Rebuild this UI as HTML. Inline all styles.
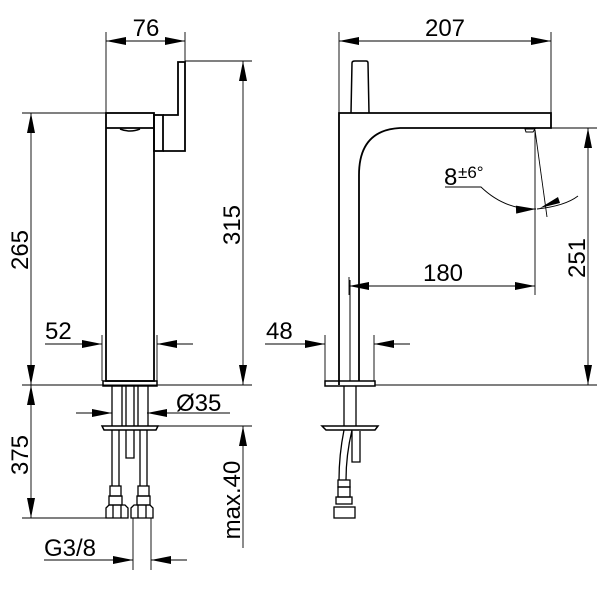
<!DOCTYPE html><html><head><style>body{margin:0;background:#fff}svg{display:block}text{font-family:"Liberation Sans",Arial,sans-serif;fill:#000}</style></head><body>
<svg width="600" height="600" viewBox="0 0 600 600" xmlns="http://www.w3.org/2000/svg">
<defs>
<marker id="a" viewBox="0 0 10 4" refX="10" refY="2" markerWidth="22" markerHeight="8" markerUnits="userSpaceOnUse" orient="auto-start-reverse"><path d="M0,0L10,2L0,4z" fill="#000"/></marker>
</defs>
<g stroke="#000" fill="none" stroke-width="0.9">
<line x1="106" y1="32" x2="106" y2="113"/><line x1="185" y1="32" x2="185" y2="62"/>
<line x1="106" y1="41" x2="185" y2="41" marker-start="url(#a)" marker-end="url(#a)"/>
<line x1="185" y1="61" x2="252" y2="61"/>
<line x1="243" y1="61" x2="243" y2="385" marker-start="url(#a)" marker-end="url(#a)"/>
<line x1="22" y1="113" x2="106" y2="113"/>
<line x1="31" y1="113" x2="31" y2="385" marker-start="url(#a)" marker-end="url(#a)"/>
<line x1="22" y1="385" x2="252" y2="385"/>
<line x1="45" y1="344" x2="102" y2="344" marker-end="url(#a)"/><line x1="193" y1="344" x2="157" y2="344" marker-end="url(#a)"/>
<line x1="102" y1="335" x2="102" y2="381"/><line x1="157" y1="335" x2="157" y2="381"/>
<line x1="76" y1="413" x2="112" y2="413" marker-end="url(#a)"/><line x1="230" y1="413" x2="147" y2="413" marker-end="url(#a)"/>
<line x1="157" y1="426" x2="252" y2="426"/>
<line x1="243" y1="548" x2="243" y2="426" marker-end="url(#a)"/>
<line x1="31" y1="385" x2="31" y2="518" marker-start="url(#a)" marker-end="url(#a)"/>
<line x1="22" y1="518" x2="108" y2="518"/>
<line x1="133" y1="518" x2="133" y2="570"/><line x1="151" y1="518" x2="151" y2="570"/>
<line x1="44" y1="560" x2="133" y2="560" marker-end="url(#a)"/><line x1="187" y1="560" x2="151" y2="560" marker-end="url(#a)"/>
<line x1="339" y1="32" x2="339" y2="113"/><line x1="551" y1="32" x2="551" y2="128"/>
<line x1="339" y1="41" x2="551" y2="41" marker-start="url(#a)" marker-end="url(#a)"/>
<line x1="551" y1="128" x2="597" y2="128"/>
<line x1="588" y1="128" x2="588" y2="385" marker-start="url(#a)" marker-end="url(#a)"/>
<line x1="375" y1="385" x2="597" y2="385"/>
<line x1="535" y1="130" x2="535" y2="295"/><line x1="349" y1="277" x2="349" y2="295"/>
<line x1="349" y1="286" x2="535" y2="286" marker-start="url(#a)" marker-end="url(#a)"/>
<line x1="535" y1="130" x2="547" y2="217"/>
<path d="M445,187H481Q505,210 536,209" marker-end="url(#a)"/>
<path d="M578,196Q565,206 537,209"/>
<path d="M560,203L540,208L558,197z" fill="#000" stroke="none"/>
<line x1="265" y1="344" x2="325" y2="344" marker-end="url(#a)"/><line x1="410" y1="344" x2="374" y2="344" marker-end="url(#a)"/>
<line x1="325" y1="335" x2="325" y2="381"/><line x1="374" y1="335" x2="374" y2="381"/>
</g>
<g stroke="#000" fill="none" stroke-width="1.8">
<rect x="106" y="113" width="48" height="268"/><line x1="106" y1="128" x2="154" y2="128"/>
<path d="M120,129Q130,133 140,129" stroke-width="1.5"/>
<rect x="154" y="115" width="9" height="36"/>
<path d="M163,115H178V62H185V151H163"/>
<rect x="103" y="381" width="54" height="5" stroke-width="1.5"/>
<g stroke-width="1.3">
<line x1="112" y1="386" x2="112" y2="426"/><line x1="122" y1="386" x2="122" y2="426"/><line x1="126" y1="386" x2="126" y2="426"/>
<line x1="134" y1="386" x2="134" y2="426"/><line x1="138" y1="386" x2="138" y2="426"/><line x1="148" y1="386" x2="148" y2="426"/>
<line x1="112" y1="430" x2="112" y2="486"/><line x1="119" y1="430" x2="119" y2="486"/>
<line x1="140" y1="430" x2="140" y2="486"/><line x1="147" y1="430" x2="147" y2="486"/>
<path d="M126,430V458H134V430"/>
<rect x="110" y="486" width="11" height="10"/><rect x="138" y="486" width="11" height="10"/>
<rect x="109" y="496" width="13" height="9"/><rect x="137" y="496" width="13" height="9"/>
<path d="M106,508L109,505H125L128,508V518H106z"/><path d="M131,508L134,505H150L153,508V518H131z"/>
<line x1="113" y1="505" x2="113" y2="518"/><line x1="121" y1="505" x2="121" y2="518"/>
<line x1="138" y1="505" x2="138" y2="518"/><line x1="146" y1="505" x2="146" y2="518"/>
</g>
<path d="M102,426H158L156,430H104z" stroke-width="1.5"/>
<path d="M339,385V113H551V128H400Q359,130 359,175V381"/>
<line x1="350" y1="280" x2="350" y2="381" stroke-width="1"/>
<path d="M351,113L352,63Q352,61 355,61H366Q368,61 368,63L369,113" stroke-width="1.5"/>
<path d="M525,129L535,129L533,132L526,132z" stroke-width="1"/>
<rect x="325" y="381" width="50" height="5" stroke-width="1.5"/>
<line x1="344" y1="386" x2="344" y2="426" stroke-width="1.3"/><line x1="356" y1="386" x2="356" y2="426" stroke-width="1.3"/>
<path d="M322,426H378L375,430H326z" stroke-width="1.5"/>
<path d="M344,430Q339,455 339,480M352,430Q346,455 346,480M352,431V462H360V431" stroke-width="1.3"/>
<rect x="338" y="480" width="12" height="7" stroke-width="1.3"/><rect x="338" y="487" width="12" height="10" stroke-width="1.3"/>
<rect x="336" y="497" width="16" height="7" stroke-width="1.3"/><rect x="334" y="507" width="21" height="11" stroke-width="1.3"/>
</g>
<g font-size="24">
<text x="146" y="36" text-anchor="middle">76</text>
<text x="445" y="36" text-anchor="middle">207</text>
<text x="443" y="281" text-anchor="middle">180</text>
<text x="45" y="339">52</text>
<text x="266" y="339">48</text>
<text x="176" y="411">Ø35</text>
<text x="44" y="556">G3/8</text>
<text transform="translate(28,250) rotate(-90)" text-anchor="middle">265</text>
<text transform="translate(240,225) rotate(-90)" text-anchor="middle">315</text>
<text transform="translate(28,455) rotate(-90)" text-anchor="middle">375</text>
<text transform="translate(240,500) rotate(-90)" text-anchor="middle">max.40</text>
<text transform="translate(585,258) rotate(-90)" text-anchor="middle">251</text>
<text x="444" y="185">8</text>
</g>
<text x="458" y="178" font-size="17">±6°</text>
</svg>
</body></html>
